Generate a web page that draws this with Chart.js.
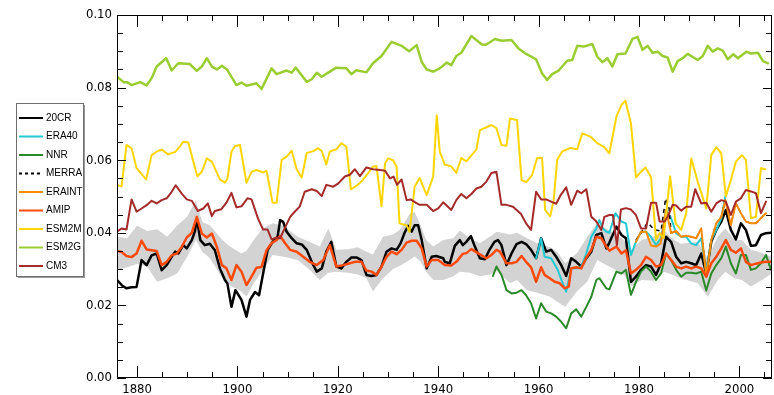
<!DOCTYPE html>
<html>
<head>
<meta charset="utf-8">
<script src="https://cdn.jsdelivr.net/npm/chart.js@4/dist/chart.umd.min.js"></script>
<style>
  html, body { margin: 0; padding: 0; background: #fff; }
  #wrap { width: 774px; height: 395px; position: relative; }
</style>
</head>
<body>
<div id="wrap"><canvas id="c" width="774" height="395"></canvas></div>
<script>
// Jet index time series, [year, value]
const cr20 = [[1876,0.0270],[1877,0.0255],[1877.9,0.0247],[1878.9,0.0250],[1879.9,0.0251],[1880.9,0.0325],[1881.9,0.0311],[1882.9,0.0338],[1883.9,0.0343],[1884.9,0.0297],[1885.9,0.0311],[1886.9,0.0334],[1887.6,0.0348],[1888.2,0.0343],[1889.2,0.0366],[1889.9,0.0357],[1890.9,0.0380],[1891.5,0.0403],[1891.9,0.0439],[1892.6,0.0380],[1893.5,0.0366],[1894.5,0.0370],[1895.5,0.0352],[1896.5,0.0302],[1897.5,0.0270],[1898,0.0260],[1898.8,0.0196],[1899.6,0.0242],[1900.8,0.0215],[1901.8,0.0169],[1902.5,0.0215],[1903.5,0.0237],[1904.3,0.0228],[1904.8,0.0265],[1905.5,0.0316],[1906,0.0352],[1907,0.0375],[1908,0.0389],[1908.5,0.0435],[1909.1,0.0430],[1909.8,0.0403],[1910.8,0.0385],[1911.8,0.0371],[1912.8,0.0368],[1913.8,0.0353],[1914.8,0.0320],[1915.8,0.0293],[1916.8,0.0302],[1917.7,0.0348],[1918.7,0.0375],[1919.7,0.0307],[1920.7,0.0302],[1921.7,0.0320],[1922.7,0.0332],[1923.7,0.0332],[1924.7,0.0325],[1925.7,0.0284],[1926.7,0.0281],[1927.7,0.0284],[1928.7,0.0307],[1929.7,0.0348],[1930.7,0.0357],[1931.7,0.0353],[1932.5,0.0371],[1933.3,0.0400],[1934,0.0419],[1934.7,0.0403],[1935.3,0.0421],[1936,0.0421],[1936.7,0.0380],[1937.7,0.0302],[1938.7,0.0334],[1939.6,0.0336],[1941,0.0330],[1941.3,0.0320],[1942.3,0.0316],[1943.3,0.0364],[1944.3,0.0380],[1944.9,0.0366],[1945.6,0.0375],[1946.5,0.0391],[1947.3,0.0362],[1948.3,0.0330],[1949.3,0.0327],[1950.2,0.0353],[1951.2,0.0375],[1951.9,0.0380],[1952.6,0.0366],[1953.6,0.0311],[1954.6,0.0343],[1955.6,0.0369],[1956.6,0.0375],[1957.5,0.0369],[1958.5,0.0353],[1959.5,0.0330],[1960.5,0.0385],[1961.5,0.0348],[1962.5,0.0353],[1963.5,0.0334],[1964.5,0.0311],[1965.5,0.0281],[1966.5,0.0330],[1967.5,0.0320],[1968.5,0.0307],[1969.5,0.0330],[1970.5,0.0348],[1971.5,0.0394],[1972.5,0.0399],[1973.5,0.0357],[1974.1,0.0373],[1975.5,0.0417],[1976.5,0.0394],[1977.4,0.0385],[1978.4,0.0265],[1979.4,0.0279],[1980.4,0.0298],[1981.4,0.0311],[1982.4,0.0307],[1983.4,0.0284],[1984.4,0.0316],[1985.4,0.0389],[1986.4,0.0375],[1987.4,0.0334],[1988.4,0.0316],[1989.4,0.0320],[1990.4,0.0316],[1991.4,0.0311],[1992.4,0.0343],[1993.4,0.0288],[1994.4,0.0375],[1995.4,0.0408],[1996.4,0.0431],[1997.3,0.0463],[1998.3,0.0408],[1999.3,0.0382],[2000.3,0.0426],[2001.3,0.0408],[2002.3,0.0364],[2003.3,0.0366],[2004.3,0.0394],[2005.3,0.0399],[2006.3,0.0400]];

const era40 = [[1959.5,0.0330],[1960.5,0.0385],[1961.2,0.0334],[1962.5,0.0330],[1963.8,0.0298],[1964.8,0.0261],[1965.5,0.0238],[1966.5,0.0302],[1967.8,0.0302],[1968.5,0.0307],[1969.5,0.0343],[1970.5,0.0389],[1971.5,0.0412],[1972.1,0.0435],[1972.8,0.0412],[1973.5,0.0403],[1974.1,0.0400],[1975.3,0.0454],[1976.5,0.0431],[1977.4,0.0426],[1978.4,0.0339],[1979.4,0.0375],[1980.4,0.0403],[1981.4,0.0403],[1982.4,0.0389],[1983.4,0.0366],[1984.4,0.0385],[1985.4,0.0463],[1986.4,0.0440],[1987.4,0.0399],[1988.4,0.0389],[1989.4,0.0389],[1990.4,0.0371],[1991.4,0.0366],[1992.4,0.0385],[1993.4,0.0293],[1994.4,0.0380],[1995.4,0.0408],[1996.4,0.0440],[1997.2,0.0501]];

const nnr = [[1950.9,0.0281],[1951.6,0.0307],[1952.6,0.0284],[1953.6,0.0242],[1954.6,0.0233],[1955.6,0.0235],[1956.6,0.0242],[1957.5,0.0228],[1958.5,0.0206],[1959.5,0.0164],[1960.5,0.0206],[1961.5,0.0183],[1962.5,0.0178],[1963.5,0.0169],[1964.5,0.0155],[1965.5,0.0137],[1966.5,0.0178],[1967.5,0.0189],[1968.5,0.0169],[1969.5,0.0196],[1970.5,0.0224],[1971.5,0.0270],[1972.1,0.0275],[1972.8,0.0261],[1973.5,0.0247],[1974.1,0.0244],[1975.5,0.0293],[1976.5,0.0288],[1977.4,0.0298],[1978.4,0.0229],[1979.4,0.0265],[1980.4,0.0293],[1981.4,0.0307],[1982.4,0.0293],[1983.4,0.0270],[1984.4,0.0288],[1985.4,0.0343],[1986.4,0.0325],[1987.4,0.0298],[1988.4,0.0279],[1989.4,0.0290],[1990.4,0.0290],[1991.4,0.0288],[1992.4,0.0293],[1993.4,0.0241],[1994.4,0.0288],[1995.4,0.0311],[1996.4,0.0330],[1997.3,0.0362],[1998.3,0.0316],[1999.3,0.0288],[2000.3,0.0339],[2001.3,0.0339],[2002.3,0.0298],[2003.3,0.0302],[2004.3,0.0316],[2005.3,0.0339],[2006.3,0.0298]];

const merra = [[1979.4,0.0380],[1980.4,0.0400],[1981.7,0.0428],[1983.1,0.0408],[1984.4,0.0405],[1985.3,0.0495],[1986,0.0467],[1986.4,0.0399],[1987.4,0.0405],[1988.4,0.0389],[1989.4,0.0392],[1990.4,0.0389],[1991.4,0.0385],[1992.4,0.0412],[1993.4,0.0279],[1994.4,0.0380],[1995.4,0.0426],[1996.4,0.0444],[1997.2,0.0490],[1998.3,0.0421],[1999.3,0.0481],[2000.3,0.0454],[2001.3,0.0431],[2002.3,0.0426],[2003.3,0.0426],[2004.3,0.0440],[2005.3,0.0454]];

const eraint = [[1979.4,0.0375],[1980.4,0.0403],[1981.4,0.0403],[1982.4,0.0365],[1983.4,0.0362],[1984.3,0.0370],[1985.4,0.0463],[1986.4,0.0399],[1987.4,0.0405],[1988.4,0.0389],[1989.4,0.0392],[1990.4,0.0389],[1991.4,0.0385],[1992.4,0.0412],[1993.4,0.0279],[1994.4,0.0380],[1995.4,0.0426],[1996.4,0.0444],[1997.2,0.0490],[1998.3,0.0421],[1999.3,0.0481],[2000.3,0.0454],[2001.3,0.0431],[2002.3,0.0426],[2003.3,0.0426],[2004.3,0.0440],[2005.3,0.0454]];

const amip = [[1876,0.0350],[1876.9,0.0347],[1877.9,0.0336],[1878.9,0.0333],[1879.9,0.0343],[1880.9,0.0378],[1881.9,0.0354],[1882.9,0.0352],[1883.9,0.0350],[1884.9,0.0311],[1885.9,0.0320],[1886.9,0.0338],[1887.9,0.0343],[1888.9,0.0361],[1889.9,0.0387],[1890.9,0.0400],[1891.9,0.0444],[1892.9,0.0398],[1893.9,0.0387],[1894.9,0.0398],[1895.9,0.0361],[1896.9,0.0311],[1897.8,0.0302],[1898.8,0.0270],[1899.8,0.0311],[1900.8,0.0293],[1901.8,0.0256],[1902.8,0.0279],[1903.8,0.0304],[1904.8,0.0306],[1905.8,0.0352],[1906.8,0.0372],[1907.8,0.0380],[1908.5,0.0391],[1909.5,0.0371],[1910.5,0.0353],[1911.8,0.0348],[1913.1,0.0334],[1914.4,0.0320],[1915.8,0.0311],[1917.1,0.0325],[1918.4,0.0366],[1919.7,0.0307],[1921.1,0.0311],[1922.4,0.0316],[1923.4,0.0320],[1924.7,0.0320],[1925.7,0.0296],[1926.7,0.0293],[1927.7,0.0284],[1928.7,0.0307],[1929.7,0.0334],[1930.7,0.0348],[1931.7,0.0341],[1932.7,0.0353],[1933.7,0.0373],[1934.7,0.0378],[1935.7,0.0378],[1936.7,0.0357],[1937.7,0.0307],[1938.7,0.0325],[1940,0.0325],[1941.3,0.0311],[1942.6,0.0310],[1943.6,0.0320],[1944.9,0.0342],[1945.6,0.0344],[1946.6,0.0355],[1947.9,0.0344],[1949.6,0.0330],[1950.6,0.0339],[1951.6,0.0353],[1952.3,0.0348],[1953.6,0.0316],[1954.6,0.0316],[1955.6,0.0320],[1956.6,0.0336],[1957.5,0.0320],[1958.5,0.0305],[1959.5,0.0265],[1960.5,0.0305],[1961.2,0.0284],[1962.2,0.0275],[1963.2,0.0265],[1964.2,0.0261],[1965.2,0.0247],[1966,0.0252],[1966.5,0.0302],[1967.5,0.0305],[1968.5,0.0302],[1969.5,0.0332],[1970.5,0.0353],[1971.5,0.0389],[1972.5,0.0385],[1973.5,0.0362],[1974.1,0.0351],[1975.5,0.0362],[1976.5,0.0343],[1977.4,0.0352],[1978.4,0.0288],[1979.4,0.0298],[1980.4,0.0311],[1981.4,0.0334],[1982.4,0.0325],[1983.4,0.0307],[1984.4,0.0311],[1985.4,0.0343],[1986.4,0.0325],[1987.4,0.0307],[1988.4,0.0302],[1989.4,0.0307],[1990.4,0.0302],[1991.4,0.0307],[1992.4,0.0302],[1993.4,0.0279],[1994.4,0.0316],[1995.4,0.0334],[1996.4,0.0357],[1997.3,0.0380],[1998.3,0.0353],[1999.3,0.0345],[2000.3,0.0357],[2001.3,0.0320],[2002.3,0.0311],[2003.3,0.0315],[2004.3,0.0318],[2005.3,0.0320],[2006.3,0.0320]];

const esm2m = [[1876,0.0532],[1876.9,0.0528],[1877.9,0.0642],[1878.9,0.0633],[1879.9,0.0578],[1881.8,0.0547],[1882.9,0.0614],[1884.2,0.0626],[1884.9,0.0629],[1886.2,0.0616],[1887.6,0.0623],[1888.6,0.0639],[1889.2,0.0651],[1890.2,0.0649],[1892,0.0556],[1892.9,0.0568],[1893.9,0.0605],[1894.9,0.0596],[1896.5,0.0547],[1897.5,0.0538],[1898,0.0549],[1898.8,0.0623],[1899.5,0.0639],[1900.5,0.0642],[1901.8,0.0538],[1902.8,0.0568],[1903.8,0.0573],[1905.1,0.0566],[1905.8,0.0571],[1907,0.0483],[1907.8,0.0483],[1908.8,0.0601],[1909.8,0.0610],[1910.8,0.0626],[1911.8,0.0575],[1912.8,0.0552],[1913.8,0.0620],[1915.1,0.0625],[1916.1,0.0633],[1916.8,0.0625],[1917.7,0.0588],[1918.4,0.0624],[1919.7,0.0630],[1920.7,0.0647],[1921.7,0.0637],[1922.6,0.0520],[1923.7,0.0529],[1924.7,0.0541],[1926,0.0564],[1927,0.0582],[1927.7,0.0584],[1928.7,0.0473],[1929.4,0.0591],[1930,0.0605],[1931,0.0600],[1931.7,0.0582],[1932.3,0.0426],[1933.7,0.0420],[1934.3,0.0403],[1935.3,0.0527],[1936.3,0.0551],[1937.7,0.0504],[1939,0.0555],[1939.7,0.0724],[1940.3,0.0624],[1941.3,0.0588],[1942.6,0.0583],[1943.6,0.0565],[1944.6,0.0606],[1945.6,0.0597],[1947.6,0.0629],[1948.3,0.0683],[1949.5,0.0690],[1950.6,0.0697],[1951.6,0.0688],[1952.6,0.0642],[1953.6,0.0640],[1954.3,0.0715],[1955.7,0.0711],[1956.6,0.0545],[1957.6,0.0540],[1958.7,0.0559],[1959.7,0.0606],[1960.7,0.0606],[1961.3,0.0463],[1962.3,0.0445],[1963,0.0490],[1963.7,0.0601],[1964.7,0.0624],[1966.3,0.0634],[1967.7,0.0630],[1968.7,0.0674],[1970.3,0.0665],[1971.7,0.0647],[1973,0.0637],[1974.1,0.0619],[1975.5,0.0720],[1976.5,0.0752],[1977.3,0.0764],[1978.4,0.0701],[1979.4,0.0553],[1980.4,0.0568],[1981.3,0.0580],[1982.4,0.0553],[1983.4,0.0380],[1984.1,0.0399],[1984.9,0.0385],[1986.2,0.0556],[1987.3,0.0426],[1988.4,0.0408],[1989.4,0.0454],[1990.4,0.0605],[1991.7,0.0541],[1993.4,0.0467],[1994.4,0.0614],[1995.4,0.0636],[1996.4,0.0619],[1997.3,0.0500],[1998.3,0.0545],[1999.3,0.0596],[2000.5,0.0614],[2001.3,0.0601],[2002.3,0.0440],[2003.3,0.0444],[2004.3,0.0578],[2005.2,0.0575]];

const esm2g = [[1876,0.0830],[1877.3,0.0815],[1878,0.0815],[1878.9,0.0807],[1880.6,0.0815],[1881.9,0.0806],[1882.9,0.0826],[1883.9,0.0858],[1885.8,0.0881],[1886.9,0.0847],[1888.2,0.0867],[1890.5,0.0865],[1891.9,0.0846],[1892.9,0.0858],[1893.9,0.0881],[1894.9,0.0858],[1895.9,0.0850],[1896.9,0.0860],[1897.9,0.0850],[1899.8,0.0807],[1900.8,0.0814],[1901.8,0.0805],[1903.8,0.0812],[1904.8,0.0796],[1906.8,0.0853],[1907.8,0.0837],[1909.8,0.0847],[1910.8,0.0841],[1911.6,0.0855],[1913.8,0.0816],[1914.8,0.0823],[1915.8,0.0841],[1916.8,0.0830],[1918.4,0.0844],[1919.7,0.0855],[1921.7,0.0853],[1922.7,0.0837],[1923.7,0.0848],[1925.7,0.0842],[1927,0.0867],[1928.7,0.0887],[1930.7,0.0926],[1932.7,0.0915],[1934.2,0.0900],[1935.7,0.0917],[1936.7,0.0871],[1937.7,0.0850],[1939,0.0844],[1940.3,0.0853],[1941.7,0.0869],[1942.6,0.0862],[1943.6,0.0887],[1944.6,0.0896],[1946.6,0.0942],[1948.7,0.0919],[1949.5,0.0918],[1951.3,0.0934],[1952.6,0.0929],[1954.6,0.0931],[1956,0.0908],[1957.6,0.0892],[1959.5,0.0878],[1960.7,0.0839],[1961.7,0.0821],[1962.7,0.0837],[1964,0.0847],[1965.7,0.0874],[1966.7,0.0876],[1967.7,0.0915],[1969,0.0913],[1970.7,0.0920],[1971.7,0.0885],[1972.7,0.0870],[1973.7,0.0881],[1974.7,0.0858],[1975.7,0.0892],[1977.3,0.0894],[1978.7,0.0934],[1979.7,0.0940],[1980.7,0.0904],[1981.7,0.0915],[1982.7,0.0896],[1983.7,0.0899],[1984.7,0.0887],[1985.7,0.0883],[1986.7,0.0844],[1987.7,0.0873],[1988.7,0.0881],[1989.7,0.0893],[1991.7,0.0876],[1992.7,0.0887],[1993.7,0.0915],[1994.7,0.0899],[1995.7,0.0908],[1996.7,0.0902],[1997.7,0.0878],[1998.8,0.0892],[1999.7,0.0881],[2001.4,0.0899],[2002.3,0.0894],[2003.7,0.0896],[2004.7,0.0873],[2005.7,0.0867]];

const cm3 = [[1876,0.0403],[1876.9,0.0412],[1877.9,0.0409],[1878.9,0.0492],[1879.9,0.0458],[1880.9,0.0467],[1881.9,0.0476],[1882.9,0.0488],[1883.9,0.0481],[1884.9,0.0490],[1885.9,0.0495],[1886.9,0.0513],[1887.7,0.0531],[1888.9,0.0508],[1889.9,0.0492],[1890.9,0.0488],[1892.1,0.0460],[1893.2,0.0467],[1894.1,0.0481],[1894.9,0.0446],[1895.5,0.0460],[1896.8,0.0465],[1897.8,0.0483],[1898.8,0.0510],[1899.8,0.0470],[1900.8,0.0473],[1902,0.0495],[1902.8,0.0492],[1904.1,0.0439],[1905.1,0.0409],[1906,0.0409],[1906.8,0.0382],[1907.8,0.0387],[1908.5,0.0385],[1909.5,0.0415],[1910.5,0.0444],[1911.4,0.0458],[1912.4,0.0472],[1913.4,0.0513],[1914.8,0.0520],[1915.8,0.0515],[1916.8,0.0501],[1917.7,0.0532],[1919.1,0.0527],[1920.1,0.0536],[1921.4,0.0555],[1922.4,0.0560],[1923.4,0.0575],[1924.4,0.0556],[1925.7,0.0580],[1927,0.0575],[1928.4,0.0573],[1929.4,0.0571],[1930.4,0.0550],[1931.1,0.0555],[1931.8,0.0532],[1932.7,0.0547],[1933.7,0.0490],[1934.5,0.0492],[1935.5,0.0483],[1936.3,0.0477],[1937.7,0.0477],[1939,0.0460],[1940,0.0467],[1941,0.0484],[1942.6,0.0463],[1943.6,0.0490],[1944.6,0.0507],[1945.6,0.0495],[1946.6,0.0507],[1947.6,0.0522],[1948.6,0.0527],[1949.6,0.0541],[1950.6,0.0565],[1951.6,0.0568],[1952.6,0.0477],[1953.6,0.0477],[1954.9,0.0472],[1956.5,0.0452],[1957.5,0.0426],[1958.5,0.0408],[1959.5,0.0513],[1960.5,0.0492],[1961.5,0.0492],[1962.5,0.0486],[1963.5,0.0480],[1964.4,0.0504],[1965.5,0.0525],[1966.5,0.0477],[1967.7,0.0516],[1968.5,0.0509],[1969.5,0.0520],[1970.5,0.0444],[1971.5,0.0431],[1972.5,0.0408],[1973.1,0.0444],[1974.1,0.0449],[1974.8,0.0449],[1975.6,0.0366],[1976.4,0.0464],[1977.4,0.0468],[1978.4,0.0464],[1979.4,0.0449],[1980.4,0.0412],[1981.4,0.0412],[1982.4,0.0483],[1983.4,0.0483],[1984.1,0.0431],[1985.1,0.0431],[1985.7,0.0444],[1986.7,0.0477],[1987.4,0.0475],[1988.4,0.0461],[1989.4,0.0472],[1990.4,0.0472],[1991.2,0.0520],[1992.4,0.0481],[1993.4,0.0483],[1994.4,0.0458],[1995.4,0.0481],[1996.4,0.0490],[1997.3,0.0486],[1998.3,0.0449],[1999.3,0.0486],[2000.3,0.0495],[2001.3,0.0518],[2002.3,0.0514],[2003.3,0.0509],[2004.3,0.0454],[2005.3,0.0486]];

// AMIP ensemble spread (shaded band)
const spreadYears = [1876,1878,1880,1882,1884,1886,1888,1890,1891.7,1893,1894.5,1897,1898.5,1900.8,1901.8,1903.2,1905,1907,1909,1912,1914.4,1916.4,1918.1,1919.7,1922,1924,1925.7,1927,1929,1931,1932.5,1934.3,1935.3,1936.5,1937.6,1939,1941,1943,1944.3,1946.3,1948.3,1950.3,1951.7,1954.3,1955.7,1957.7,1959.7,1962.3,1963.7,1965.3,1967.7,1969.7,1971.7,1973,1975,1977,1978.5,1980.5,1983,1985,1986.5,1988.3,1991.7,1993.7,1995.7,1997.2,1999,2000.5,2002.3,2004.5,2006.4];
const spreadUpper = [0.0389,0.0385,0.0420,0.0405,0.0410,0.0389,0.0420,0.0445,0.0490,0.0430,0.0421,0.0380,0.0362,0.0343,0.0350,0.0380,0.0412,0.0426,0.0420,0.0389,0.0375,0.0362,0.0412,0.0353,0.0355,0.0360,0.0348,0.0340,0.0389,0.0395,0.0410,0.0452,0.0457,0.0420,0.0380,0.0362,0.0380,0.0385,0.0406,0.0385,0.0371,0.0390,0.0403,0.0395,0.0400,0.0385,0.0371,0.0360,0.0348,0.0316,0.0345,0.0389,0.0426,0.0415,0.0399,0.0380,0.0353,0.0380,0.0390,0.0408,0.0385,0.0370,0.0375,0.0330,0.0390,0.0412,0.0380,0.0380,0.0353,0.0345,0.0334];
const spreadLower = [0.0298,0.0305,0.0314,0.0307,0.0265,0.0275,0.0288,0.0335,0.0380,0.0348,0.0330,0.0275,0.0255,0.0238,0.0224,0.0260,0.0295,0.0339,0.0335,0.0325,0.0298,0.0270,0.0290,0.0293,0.0290,0.0285,0.0275,0.0238,0.0275,0.0300,0.0310,0.0325,0.0335,0.0320,0.0293,0.0270,0.0270,0.0280,0.0293,0.0290,0.0280,0.0285,0.0295,0.0261,0.0270,0.0242,0.0235,0.0224,0.0210,0.0196,0.0240,0.0265,0.0325,0.0315,0.0300,0.0285,0.0252,0.0270,0.0268,0.0293,0.0285,0.0275,0.0261,0.0224,0.0270,0.0293,0.0275,0.0270,0.0252,0.0270,0.0288];

const yearMin = 1876, yearMax = 2006.5;
const axisFont = "'Liberation Sans Narrow', 'DejaVu Sans Condensed', Arial, sans-serif";
const textFont = "'Liberation Sans', Arial, sans-serif";

const pts = arr => arr.map(p => ({ x: p[0], y: p[1] }));
const line = (label, data, color, order, extra) => Object.assign({
  label, data: pts(data), borderColor: color, backgroundColor: color,
  borderWidth: 2, pointRadius: 0, tension: 0, fill: false, order,
  borderJoinStyle: 'round', borderCapStyle: 'round'
}, extra || {});

const datasets = [
  line('20CR', cr20, '#000000', 9, { borderWidth: 2.5 }),
  line('ERA40', era40, '#1fcad3', 8),
  line('NNR', nnr, '#2a8a2a', 7),
  line('MERRA', merra, '#000000', 6, { borderDash: [4, 4], borderCapStyle: 'butt', borderWidth: 1.5 }),
  line('ERAINT', eraint, '#ff8c00', 5),
  line('AMIP', amip, '#ff4a0a', 4, { borderWidth: 2.5 }),
  line('ESM2M', esm2m, '#ffd500', 3),
  line('ESM2G', esm2g, '#9acd32', 2, { borderWidth: 2.5 }),
  line('CM3', cm3, '#a52a2a', 1),
  {
    label: 'spread-upper', data: spreadYears.map((y, i) => ({ x: y, y: spreadUpper[i] })),
    borderWidth: 0, pointRadius: 0, tension: 0, fill: '+1',
    backgroundColor: '#d3d3d3', borderColor: 'rgba(0,0,0,0)', order: 10
  },
  {
    label: 'spread-lower', data: spreadYears.map((y, i) => ({ x: y, y: spreadLower[i] })),
    borderWidth: 0, pointRadius: 0, tension: 0, fill: false,
    borderColor: 'rgba(0,0,0,0)', order: 11
  }
];

const legendNames = ['20CR', 'ERA40', 'NNR', 'MERRA', 'ERAINT', 'AMIP', 'ESM2M', 'ESM2G', 'CM3'];

// Frame and inward-pointing tick marks on all four sides
const frameTicks = {
  id: 'frameTicks',
  afterDatasetsDraw(chart) {
    const { ctx, chartArea: a, scales: { x, y } } = chart;
    ctx.save();
    ctx.strokeStyle = '#000';
    ctx.lineWidth = 1;
    ctx.strokeRect(Math.round(a.left) + 0.5, Math.round(a.top) + 0.5,
      Math.round(a.right - a.left) - 1, Math.round(a.bottom - a.top) - 1);
    ctx.beginPath();
    x.ticks.forEach(t => {
      const px = Math.round(x.getPixelForValue(t.value)) + 0.5;
      const len = t.value % 20 === 0 ? 12 : 6;
      ctx.moveTo(px, a.bottom); ctx.lineTo(px, a.bottom - len);
      ctx.moveTo(px, a.top); ctx.lineTo(px, a.top + len);
    });
    y.ticks.forEach(t => {
      const py = Math.round(y.getPixelForValue(t.value)) + 0.5;
      const major = Math.round(t.value * 1000) % 20 === 0;
      const len = major ? 9 : 6;
      ctx.moveTo(a.left, py); ctx.lineTo(a.left + len, py);
      ctx.moveTo(a.right, py); ctx.lineTo(a.right - len, py);
    });
    ctx.stroke();
    ctx.restore();
  }
};

// Boxed legend at the left of the plot
const boxLegend = {
  id: 'boxLegend',
  afterDraw(chart) {
    const ctx = chart.ctx;
    const bx = 16, by = 103, bw = 67, bh = 173;
    ctx.save();
    ctx.fillStyle = '#9a9a9a';
    ctx.fillRect(bx + 2, by + 2, bw, bh);
    ctx.fillStyle = '#fff';
    ctx.fillRect(bx, by, bw, bh);
    ctx.strokeStyle = '#6e6e6e';
    ctx.lineWidth = 1;
    ctx.strokeRect(bx + 0.5, by + 0.5, bw, bh);
    ctx.font = '10px ' + textFont;
    ctx.textBaseline = 'middle';
    legendNames.forEach((name, i) => {
      const ds = chart.data.datasets.find(d => d.label === name);
      const yy = by + 15 + i * 18.5;
      ctx.beginPath();
      ctx.strokeStyle = ds.borderColor;
      ctx.lineWidth = 2;
      ctx.setLineDash(ds.borderDash ? [3, 3] : []);
      ctx.moveTo(bx + 3, yy); ctx.lineTo(bx + 27, yy);
      ctx.stroke();
      ctx.setLineDash([]);
      ctx.fillStyle = '#000';
      ctx.fillText(name, bx + 30, yy);
    });
    ctx.restore();
  }
};

new Chart(document.getElementById('c'), {
  type: 'line',
  data: { datasets },
  options: {
    responsive: false,
    animation: false,
    devicePixelRatio: 1,
    layout: { padding: { top: 15, right: 2, left: 0, bottom: 0 } },
    plugins: { legend: { display: false }, tooltip: { enabled: false }, title: { display: false } },
    scales: {
      x: {
        type: 'linear', min: yearMin, max: yearMax,
        grid: { display: false, drawTicks: false },
        border: { display: false },
        ticks: {
          stepSize: 5, includeBounds: false, autoSkip: false, maxRotation: 0,
          padding: 4, color: '#000', font: { family: axisFont, size: 13 },
          callback: v => (v % 20 === 0 ? String(v) : '')
        },
        afterFit: s => { s.height = 17; }
      },
      y: {
        min: 0, max: 0.1,
        grid: { display: false, drawTicks: false },
        border: { display: false },
        ticks: {
          stepSize: 0.005, autoSkip: false, padding: 5, color: '#000',
          font: { family: axisFont, size: 13 },
          callback: v => (Math.round(v * 1000) % 20 === 0 ? v.toFixed(2) : '')
        },
        afterFit: s => { s.width = 117; }
      }
    }
  },
  plugins: [frameTicks, boxLegend]
});
</script>
</body>
</html>
